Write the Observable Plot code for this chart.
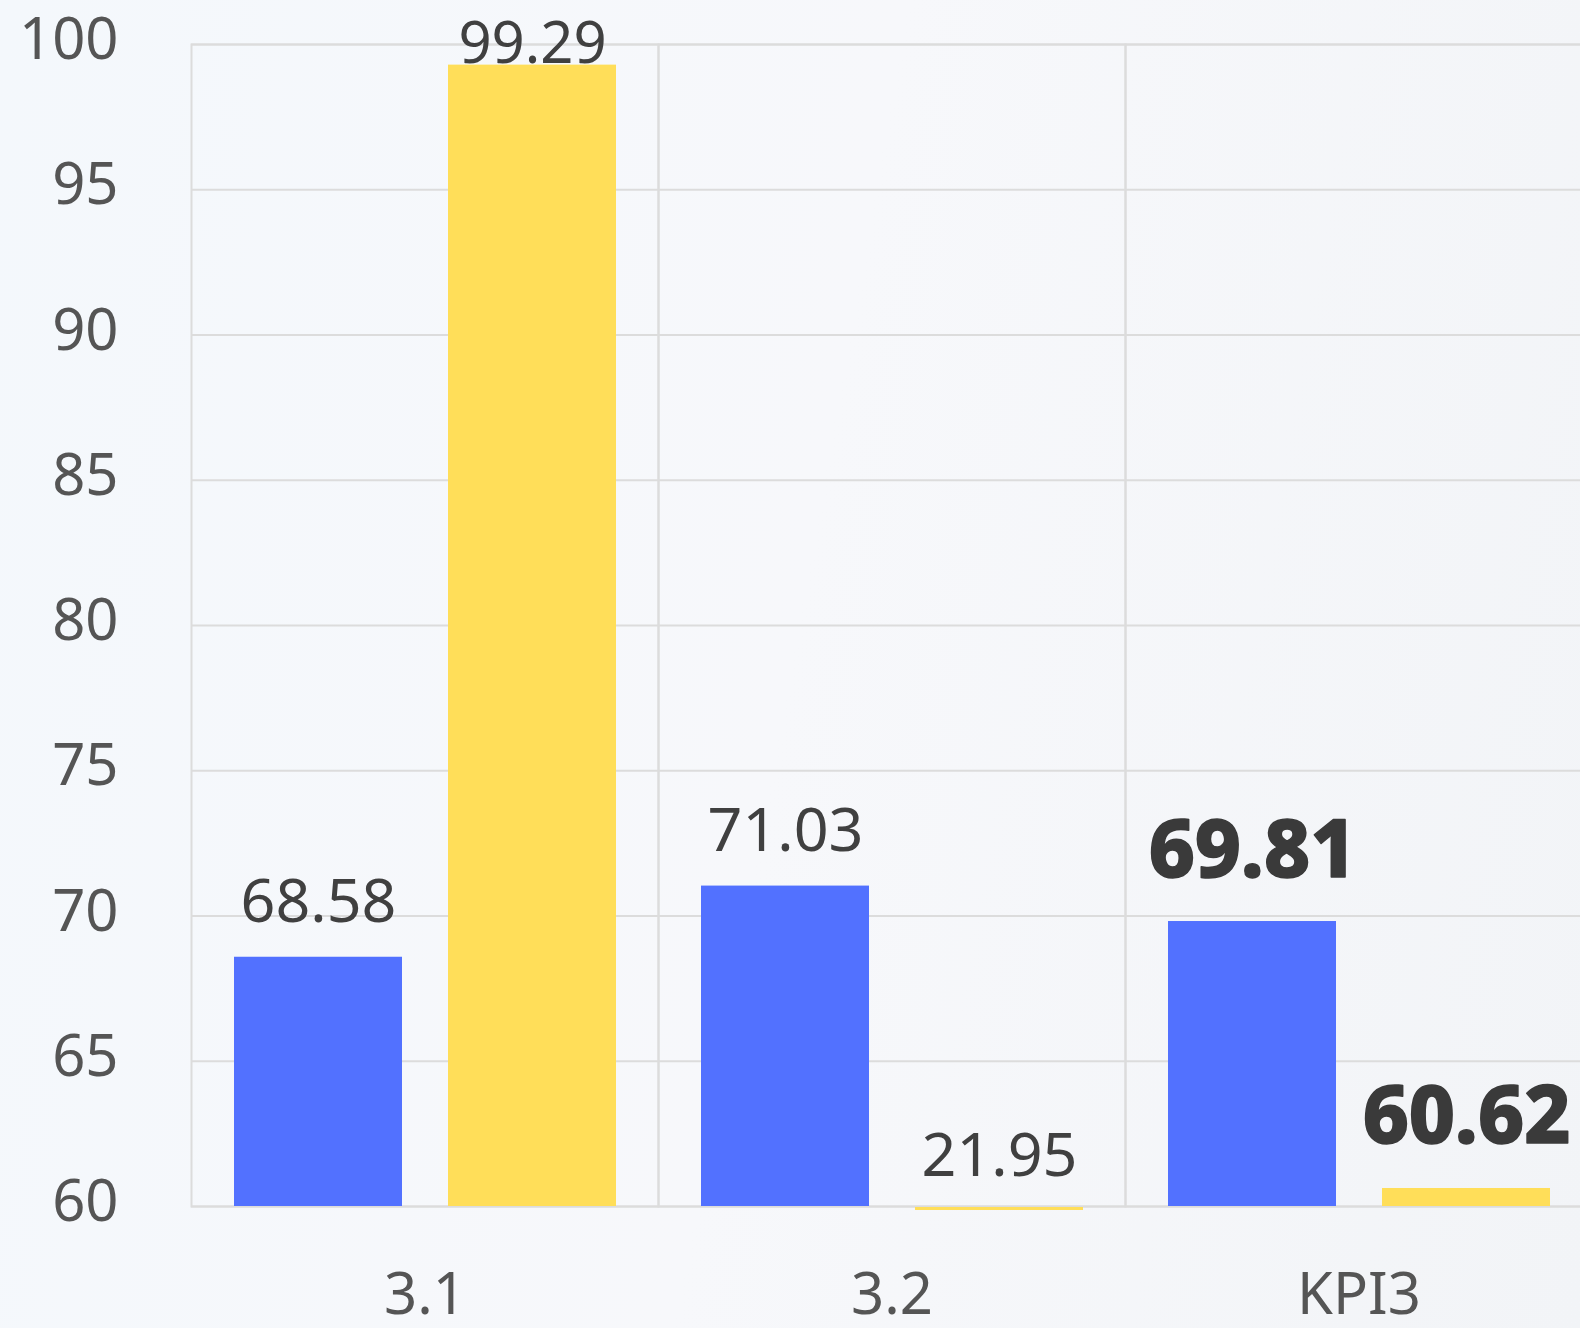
<!DOCTYPE html>
<html>
<head>
<meta charset="utf-8">
<script src="https://cdn.jsdelivr.net/npm/d3@7"></script>
<script src="https://cdn.jsdelivr.net/npm/@observablehq/plot@0.6"></script>
<style>
  html, body { margin: 0; padding: 0; }
  body {
    width: 1580px; height: 1328px; overflow: hidden;
    background: linear-gradient(100deg, #f4f8fc 0%, #f7f8fb 50%, #f2f4f7 100%);
  }
  #chart svg { display: block; }
</style>
</head>
<body>
<div id="chart"></div>
<script>
const categories = ["3.1", "3.2", "KPI3"];
const seriesNames = ["A", "B"];
const seriesA = [68.58, 71.03, 69.81];   // blue
const seriesB = [99.29, 21.95, 60.62];   // yellow
const yTicks = [60, 65, 70, 75, 80, 85, 90, 95, 100];
const boldCategories = ["KPI3"];

const yMin = 60, yMax = 100;
const blue = "#5271FF", yellow = "#FFDE59";

const data = [];
categories.forEach((c, i) => {
  data.push({cat: c, series: "A", value: seriesA[i]});
  data.push({cat: c, series: "B", value: seriesB[i]});
});

const fmt = d => d.value.toFixed(2);
const isBold = d => boldCategories.includes(d.cat);

const chart = Plot.plot({
  width: 1580,
  height: 1328,
  marginLeft: 190,
  marginRight: -12,
  marginTop: 44,
  marginBottom: 122,
  style: {fontFamily: "'Noto Sans', sans-serif", background: "transparent", overflow: "visible"},
  fx: {domain: categories, padding: 0},
  x: {domain: seriesNames, paddingInner: 0.216, paddingOuter: 0.197, axis: null},
  y: {domain: [yMin, yMax], clamp: true},
  color: {domain: seriesNames, range: [blue, yellow]},
  marks: [
    Plot.gridY(yTicks, {stroke: "#dcdcdc", strokeOpacity: 1, strokeWidth: 2}),
    Plot.frame({stroke: "#dcdcdc", strokeWidth: 2}),
    Plot.barY(data, {fx: "cat", x: "series", y1: yMin, y2: "value", fill: "series"}),
    Plot.tickY(data.filter(d => d.value < yMin), {fx: "cat", x: "series", y: "value", stroke: "series", strokeWidth: 3, dy: 2}),
    // normal labels
    Plot.text(data.filter(d => !isBold(d) && d.value < yMax - 2 && d.value >= yMin), {
      fx: "cat", x: "series", y: "value", text: fmt, lineAnchor: "bottom", dy: -35,
      fontSize: 61, fill: "#404040", letterSpacing: "-1px"
    }),
    Plot.text(data.filter(d => !isBold(d) && d.value < yMin), {
      fx: "cat", x: "series", y: "value", text: fmt, lineAnchor: "bottom", dy: -31,
      fontSize: 61, fill: "#404040", letterSpacing: "-1px"
    }),
    Plot.text(data.filter(d => !isBold(d) && d.value >= yMax - 2), {
      fx: "cat", x: "series", y: "value", text: fmt, lineAnchor: "bottom", dy: -2,
      fontSize: 58, fill: "#404040", letterSpacing: "-0.5px"
    }),
    // bold labels
    Plot.text(data.filter(d => isBold(d)), {
      fx: "cat", x: "series", y: "value", text: fmt, lineAnchor: "bottom", dy: -45,
      fontSize: 80, fontWeight: 800, fill: "#3a3a3a", stroke: "#3a3a3a", strokeWidth: 1.5
    }),
    Plot.axisY(yTicks, {tickSize: 0, tickPadding: 73, fontSize: 58, fill: "#555", dy: -4, label: null}),
    Plot.axisFx({anchor: "bottom", tickSize: 0, tickPadding: 66, fontSize: 58, fill: "#555", label: null})
  ]
});

document.getElementById("chart").appendChild(chart);
</script>
</body>
</html>
